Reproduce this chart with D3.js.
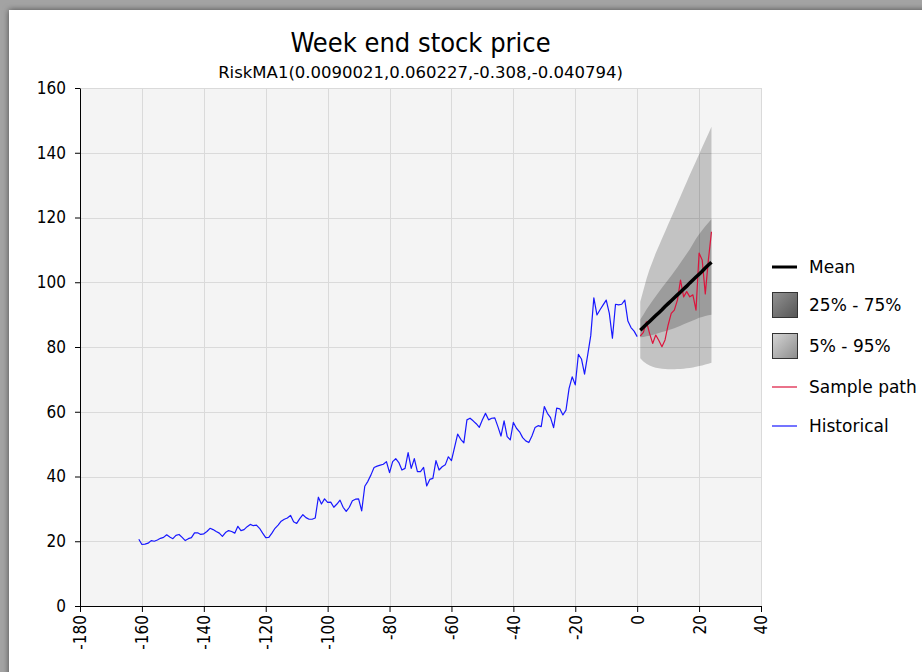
<!DOCTYPE html>
<html><head><meta charset="utf-8">
<script src="https://cdn.jsdelivr.net/npm/d3@7"></script>
<style>html,body{margin:0;padding:0;background:#fff;overflow:hidden}</style>
</head><body><svg id="c" width="922" height="672"></svg>
<script>
// ---------- data ----------
const histStart = -161;
const historical = [
 20.6,19.0,19.1,19.4,20.2,20.0,20.4,20.9,21.2,22.0,
 21.3,20.8,21.8,22.1,21.2,20.2,20.8,21.1,22.6,22.6,
 22.1,22.3,23.0,24.0,23.6,23.0,22.5,21.5,22.7,23.3,
 23.0,22.5,24.6,23.3,23.6,24.5,25.2,24.8,25.0,24.0,
 22.5,21.1,21.2,22.5,24.0,25.0,26.2,26.8,27.2,28.0,
 26.0,25.5,27.0,28.2,27.3,26.8,26.8,27.2,33.6,31.5,
 33.1,32.0,32.1,30.5,31.5,32.7,30.5,29.2,30.5,32.5,
 33.0,33.1,29.4,37.0,38.5,40.5,42.8,43.2,43.5,43.8,
 44.6,41.2,44.6,45.5,44.3,42.0,42.5,47.4,42.5,45.5,
 41.5,41.5,42.8,37.1,39.1,39.4,44.9,42.0,43.0,43.6,
 46.1,44.9,49.0,53.1,51.5,50.4,57.5,58.0,57.2,56.3,
 55.2,57.5,59.5,57.5,58.0,58.1,55.4,52.5,57.2,52.3,
 51.3,56.7,54.9,53.8,52.0,51.0,50.5,52.5,55.1,55.7,
 55.4,61.6,59.5,58.2,55.1,61.1,60.9,59.0,60.5,67.2,
 70.8,68.3,77.7,76.3,71.6,77.5,83.5,95.2,89.9,91.5,
 93.0,94.5,90.4,82.7,93.2,93.0,93.2,94.5,88.0,86.0,
 84.9,83.2
];
const forecastWeeks = [1,2,3,4,5,6,7,8,9,10,11,12,13,14,15,16,17,18,19,20,21,22,23,24];
const meanPath = [85.2,86.1,87.0,87.9,88.8,89.7,90.6,91.5,92.5,93.4,94.3,95.2,96.1,97.0,97.9,98.8,99.8,100.7,101.6,102.5,103.4,104.4,105.3,106.2];
const p5  = [76.5,75.5,74.8,74.3,73.9,73.6,73.4,73.3,73.2,73.1,73.1,73.1,73.2,73.2,73.3,73.4,73.5,73.7,73.9,74.1,74.3,74.6,74.8,75.1];
const p95 = [94.0,97.5,101.0,104.0,106.5,109.0,111.2,113.4,115.6,117.8,120.0,122.2,124.4,126.6,128.8,131.0,133.2,135.3,137.4,139.5,141.7,143.8,145.9,148.0];
const p25 = [83.0,83.1,83.3,83.5,83.7,84.0,84.3,84.6,84.9,85.2,85.5,85.8,86.2,86.6,87.0,87.4,87.8,88.2,88.6,89.0,89.3,89.6,89.8,90.0];
const p75 = [88.5,90.0,91.6,93.0,94.4,95.7,97.0,98.3,99.5,100.8,102.0,103.3,104.6,106.0,107.4,108.8,110.2,111.8,113.4,114.8,116.1,117.3,118.4,119.5];
const samplePath = [83.4,84.5,87.8,84.2,81.1,83.7,82.0,80.1,82.2,86.8,90.4,91.4,94.5,100.7,95.5,97.1,95.5,96.1,91.4,109.0,106.9,96.4,106.9,115.6];
const xTicks = [-180,-160,-140,-120,-100,-80,-60,-40,-20,0,20,40];
const yTicks = [0,20,40,60,80,100,120,140,160];
const titleText = "Week end stock price";
const subtitleText = "RiskMA1(0.0090021,0.060227,-0.308,-0.040794)";
const legendItems = ["Mean","25% - 75%","5% - 95%","Sample path","Historical"];

// ---------- layout ----------
const W = 922, H = 672;
const M = {left: 80, right: 161, top: 88, bottom: 66};
const FONT = "'DejaVu Sans Condensed','DejaVu Sans',sans-serif";
const FONT2 = "'DejaVu Sans',sans-serif";
const svg = d3.select("#c");
const defs = svg.append("defs");

const shadow = defs.append("filter").attr("id","sh").attr("x","-5%").attr("y","-5%").attr("width","110%").attr("height","110%");
shadow.append("feDropShadow").attr("dx",0).attr("dy",0).attr("stdDeviation",3).attr("flood-color","#000").attr("flood-opacity",0.55);

const g1 = defs.append("linearGradient").attr("id","gDark").attr("x1","0").attr("y1","0").attr("x2","1").attr("y2","1");
g1.append("stop").attr("offset","0%").attr("stop-color","#939393");
g1.append("stop").attr("offset","100%").attr("stop-color","#555");
const g2 = defs.append("linearGradient").attr("id","gLight").attr("x1","0").attr("y1","0").attr("x2","1").attr("y2","1");
g2.append("stop").attr("offset","0%").attr("stop-color","#d6d6d6");
g2.append("stop").attr("offset","100%").attr("stop-color","#8c8c8c");

// frame
svg.append("rect").attr("width",W).attr("height",H).attr("fill","#a3a3a3");
svg.append("rect").attr("x",9).attr("y",10).attr("width",W).attr("height",H).attr("fill","#fff").attr("filter","url(#sh)");

const x = d3.scaleLinear().domain([-180,40]).range([M.left, W - M.right]);
const y = d3.scaleLinear().domain([0,160]).range([H - M.bottom, M.top]);

// plot bg
svg.append("rect").attr("x",x(-180)).attr("y",y(160)).attr("width",x(40)-x(-180)).attr("height",y(0)-y(160)).attr("fill","#f4f4f4");

// grid
const grid = svg.append("g").attr("stroke","#dadada").attr("stroke-width",1);
grid.selectAll("line.v").data(xTicks.slice(1)).join("line")
  .attr("x1",d=>Math.round(x(d))+0.5).attr("x2",d=>Math.round(x(d))+0.5)
  .attr("y1",y(160)).attr("y2",y(0));
grid.selectAll("line.h").data(yTicks.slice(1)).join("line")
  .attr("y1",d=>Math.round(y(d))+0.5).attr("y2",d=>Math.round(y(d))+0.5)
  .attr("x1",x(-180)).attr("x2",x(40));

// bands
const area = (lo, hi) => d3.area()
  .x((d,i)=>x(forecastWeeks[i])).y0((d,i)=>y(lo[i])).y1((d,i)=>y(hi[i]));
svg.append("path").datum(p5).attr("d", area(p5,p95)).attr("fill","#000").attr("fill-opacity",0.2);
svg.append("path").datum(p25).attr("d", area(p25,p75)).attr("fill","#000").attr("fill-opacity",0.2);

// historical
const hLine = d3.line().x((d,i)=>x(histStart+i)).y(d=>y(d));
svg.append("path").datum(historical).attr("d",hLine).attr("fill","none").attr("stroke","#1818ff").attr("stroke-width",1.2).attr("stroke-linejoin","round");

// sample path
const fLine = d3.line().x((d,i)=>x(forecastWeeks[i])).y(d=>y(d));
svg.append("path").datum(samplePath).attr("d",fLine).attr("fill","none").attr("stroke","#dc143c").attr("stroke-width",1.2).attr("stroke-linejoin","round");
// mean
svg.append("path").datum(meanPath).attr("d",fLine).attr("fill","none").attr("stroke","#000").attr("stroke-width",3.5);

// axes
const ax = svg.append("g").attr("transform",`translate(0,${y(0)})`)
  .call(d3.axisBottom(x).tickValues(xTicks).tickSize(6).tickSizeOuter(0).tickFormat(d => String(d)));
ax.selectAll("text").attr("transform","rotate(-90)").attr("x",-9).attr("y",0).attr("dy","0.35em")
  .attr("text-anchor","end").style("font-family",FONT).style("font-size","17px").attr("fill","#000");
const ay = svg.append("g").attr("transform",`translate(${x(-180)},0)`)
  .call(d3.axisLeft(y).tickValues(yTicks).tickSize(5).tickSizeOuter(0).tickPadding(9).tickFormat(d => String(d)));
ay.selectAll("text").style("font-family",FONT).style("font-size","17px").attr("fill","#000");
[ax, ay].forEach(a => { a.select(".domain").attr("stroke","#000"); a.selectAll(".tick line").attr("stroke","#000"); });

// titles
const cx = (x(-180)+x(40))/2;
svg.append("text").attr("x",cx).attr("y",52).attr("text-anchor","middle").style("font-family",FONT).style("font-size","27px").text(titleText);
svg.append("text").attr("x",cx).attr("y",78).attr("text-anchor","middle").style("font-family",FONT2).style("font-size","16.5px").text(subtitleText);

// legend
const lg = svg.append("g").attr("transform","translate(772,0)");
const ly = [267, 305, 346, 387, 426];
lg.append("line").attr("x1",0).attr("x2",25).attr("y1",ly[0]).attr("y2",ly[0]).attr("stroke","#000").attr("stroke-width",3);
lg.append("rect").attr("x",0.5).attr("y",ly[1]-12.5).attr("width",25).attr("height",25).attr("fill","url(#gDark)").attr("stroke","#333");
lg.append("rect").attr("x",0.5).attr("y",ly[2]-12.5).attr("width",25).attr("height",25).attr("fill","url(#gLight)").attr("stroke","#333");
lg.append("line").attr("x1",0).attr("x2",25).attr("y1",ly[3]).attr("y2",ly[3]).attr("stroke","#dc143c").attr("stroke-width",1.2);
lg.append("line").attr("x1",0).attr("x2",25).attr("y1",ly[4]).attr("y2",ly[4]).attr("stroke","#1818ff").attr("stroke-width",1.2);
lg.selectAll("text.l").data(legendItems).join("text").attr("class","l")
  .attr("x",37).attr("y",(d,i)=>ly[i]).attr("dy","0.35em")
  .style("font-family",FONT2).style("font-size","17px").text(d=>d);
</script>
</body></html>
